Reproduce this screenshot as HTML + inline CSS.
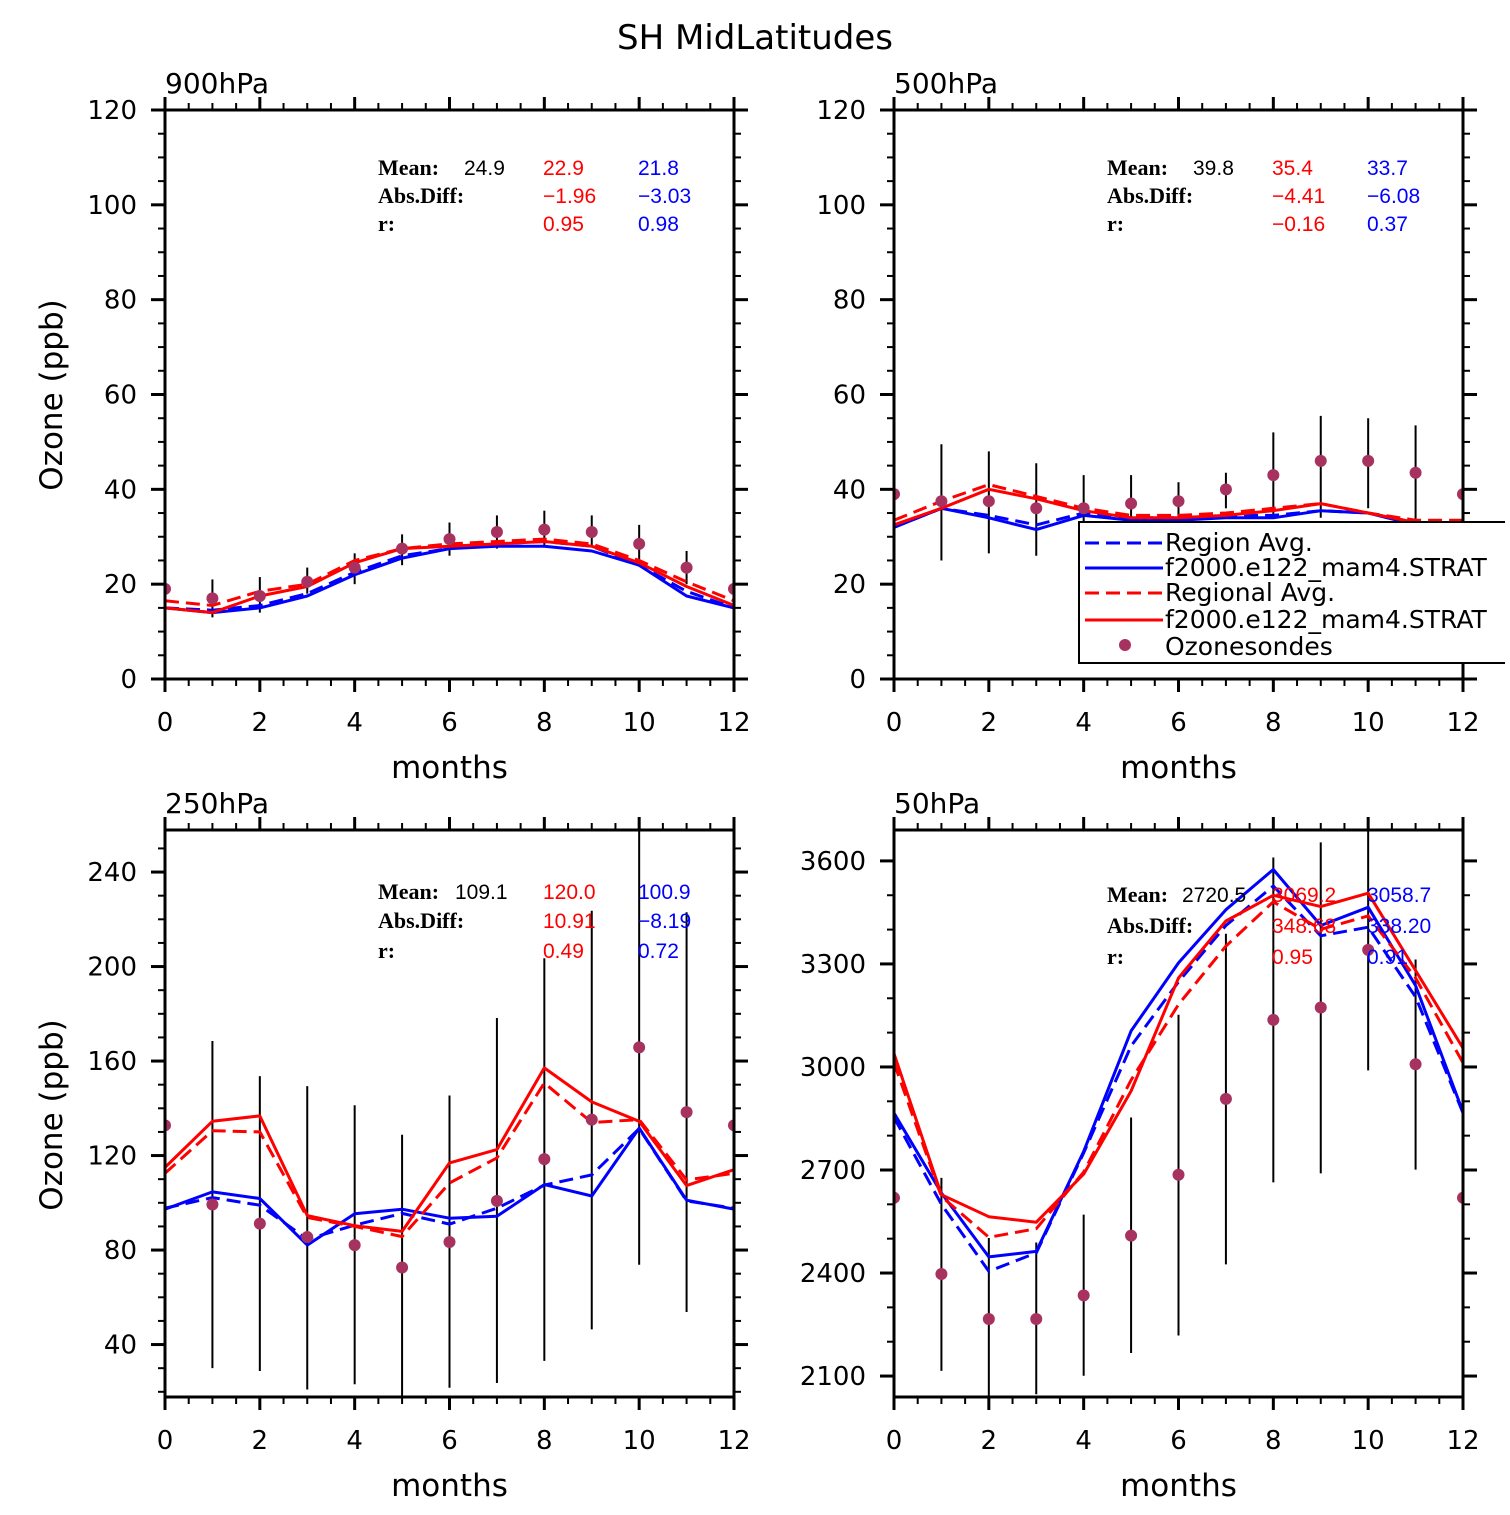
<!DOCTYPE html>
<html><head><meta charset="utf-8"><style>
html,body{margin:0;padding:0;background:#fff;}
svg text{font-family:"DejaVu Sans","Liberation Sans",sans-serif;}
.lbl{font-family:"Liberation Serif","DejaVu Serif",serif !important;font-weight:bold;}
.num{font-family:"Liberation Sans","DejaVu Sans",sans-serif !important;}
</style></head><body>
<svg id="fig" width="1510" height="1510" viewBox="0 0 1510 1510" xmlns="http://www.w3.org/2000/svg">
<rect width="1510" height="1510" fill="#fff"/>
<text x="755" y="49" font-size="34" text-anchor="middle">SH MidLatitudes</text>
</svg>
<script>
// months
const months=[0,1,2,3,4,5,6,7,8,9,10,11,12];
// ---- panel 900hPa ----
const p900Obs=[19,17,17.5,20.5,23.5,27.5,29.5,31,31.5,31,28.5,23.5,19];
const p900ErrLo=[null,13,14,18,20,24,26,27.5,28,28,24.5,20,null];
const p900ErrHi=[null,21,21.5,23.5,26.5,30.5,33,34.5,35.5,34.5,32.5,27,null];
const p900RedDash=[16.5,15.5,18.5,20,25,27.5,28.5,29,29.5,28.5,25,20.5,16.5];
const p900Red=[15,14,17.5,19.5,24.5,27.5,28,28.5,29,28,24.5,19.5,15.5];
const p900BlueDash=[15,14.5,15.5,18,22.5,26,27.5,28.5,29,28,24,18.5,15];
const p900Blue=[15,14,15,17.5,22,25.5,27.5,28,28,27,24,17.5,15];
const p900Ticks=[0,20,40,60,80,100,120];
const p900Stats=["24.9","22.9","21.8","\u22121.96","\u22123.03","0.95","0.98"];
// ---- panel 500hPa ----
const p500Obs=[39,37.5,37.5,36,36,37,37.5,40,43,46,46,43.5,39];
const p500ErrLo=[null,25,26.5,26,27,30,33,36,34,34,36,33,null];
const p500ErrHi=[null,49.5,48,45.5,43,43,41.5,43.5,52,55.5,55,53.5,null];
const p500RedDash=[33.5,37.5,41,38.5,36,34.5,34.5,35,36,37,35,33.5,33.5];
const p500Red=[32.5,36,40,38,35.5,34,34,34.5,35.5,37,35,33,32.5];
const p500BlueDash=[32,36,34.5,32.5,35,34,34,34.5,34.5,35.5,35,33,32];
const p500Blue=[32,36,34,31.5,34.5,33.5,33.5,34,34,35.5,35,32.5,32];
const p500Ticks=[0,20,40,60,80,100,120];
const p500Stats=["39.8","35.4","33.7","\u22124.41","\u22126.08","\u22120.16","0.37"];
// ---- panel 250hPa ----
const p250Obs=[132.8,99.3,91.2,85.5,82.1,72.6,83.4,100.8,118.5,135.2,165.8,138.4,132.8];
const p250ErrLo=[null,30,28.8,21,23.2,15,21.7,23.7,33.1,46.4,73.8,53.8,null];
const p250ErrHi=[null,168.5,153.6,149.4,141.3,128.8,145.4,178.2,203.5,223.6,270,223,null];
const p250RedDash=[112.5,130.5,130,93.8,90,85.7,108.4,119,150.7,134,135.2,109.7,112.5];
const p250Red=[115,134.5,136.8,94.6,90.3,87.9,116.9,122.5,157.1,142.7,134.5,107.3,114];
const p250BlueDash=[97.7,102.2,99,84.6,90.5,95.5,91,97.7,107.5,111.8,131.4,100.8,97.7];
const p250Blue=[97.3,104.6,101.8,82.1,95.4,97.3,93.5,94.3,107.7,102.9,131.6,101.1,97.3];
const p250Ticks=[40,80,120,160,200,240];
const p250Stats=["109.1","120.0","100.9","10.91","\u22128.19","0.49","0.72"];
// ---- panel 50hPa ----
const p50Obs=[2619,2397,2266,2266,2335,2509,2686,2907,3137,3173,3341,3008,2619];
const p50ErrLo=[null,2115,2000,2047,2101,2167,2218,2425,2664,2690,2990,2701,null];
const p50ErrHi=[null,2677,2502,2489,2570,2853,3152,3388,3610,3654,3750,3313,null];
const p50RedDash=[3012,2623,2504,2529,2694,2962,3182,3352,3481,3401,3440,3259,3012];
const p50Red=[3039,2628,2564,2548,2688,2930,3259,3425,3500,3467,3506,3281,3055];
const p50BlueDash=[2853,2600,2405,2459,2750,3061,3248,3412,3527,3382,3407,3204,2866];
const p50Blue=[2866,2633,2447,2463,2754,3105,3303,3458,3575,3412,3465,3237,2869];
const p50Ticks=[2100,2400,2700,3000,3300,3600];
const p50Stats=["2720.5","3069.2","3058.7","348.68","338.20","0.95","0.91"];
const xTicks=[0,2,4,6,8,10,12];

const NS="http://www.w3.org/2000/svg";
const svg=document.getElementById('fig');
function mk(tag,attrs,parent){const e=document.createElementNS(NS,tag);for(const k in attrs)e.setAttribute(k,attrs[k]);(parent||svg).appendChild(e);return e;}

function panel(cfg){
  const g=mk('g',{});
  
  
  const X0=cfg.x0,X1=cfg.x0+569,Y0=cfg.y0,Y1=cfg.y1;
  const sx=v=>X0+(v-0)/12*(X1-X0);
  const sy=v=>Y1-(v-cfg.ymin)/(cfg.ymax-cfg.ymin)*(Y1-Y0);
  const cid='clip-'+cfg.name;
  const cp=mk('clipPath',{id:cid},g);mk('rect',{x:X0,y:Y0,width:X1-X0,height:Y1-Y0},cp);
  const plot=mk('g',{'clip-path':'url(#'+cid+')'},g);
  
  
  months.forEach((m,i)=>{
    if(cfg.lo[i]===null)return;
    const l=mk('line',{x1:sx(m),x2:sx(m),y1:sy(cfg.lo[i]),y2:sy(cfg.hi[i]),stroke:'#000','stroke-width':2},plot);
    
    
  });
  const series=[[cfg.bd,'#0000ff',true,'region-avg-blue'],[cfg.b,'#0000ff',false,'model-blue'],[cfg.rd,'#ff0000',true,'regional-avg-red'],[cfg.r,'#ff0000',false,'model-red']];
  series.forEach(s=>{
    const pts=months.map((m,i)=>sx(m).toFixed(1)+','+sy(s[0][i]).toFixed(1)).join(' ');
    const a={points:pts,fill:'none',stroke:s[1],'stroke-width':3,'stroke-linejoin':'round'};
    if(s[2])a['stroke-dasharray']='14 7';
    const pl=mk('polyline',a,plot);
    
    
  });
  months.forEach((m,i)=>{
    const c=mk('circle',{cx:sx(m),cy:sy(cfg.obs[i]),r:6,fill:'#a8325f'},plot);
    
    
  });
  const fr=mk('rect',{x:X0,y:Y0,width:X1-X0,height:Y1-Y0,fill:'none',stroke:'#000','stroke-width':3},g);
  
  
  for(let k=0;k<=24;k++){
    const v=k/2, major=(k%4===0), L=major?13:7, x=sx(v);
    mk('line',{x1:x,x2:x,y1:Y1,y2:Y1+L,stroke:'#000','stroke-width':major?3:2},g);
    mk('line',{x1:x,x2:x,y1:Y0,y2:Y0-L,stroke:'#000','stroke-width':major?3:2},g);
  }
  xTicks.forEach(v=>{
    const t=mk('text',{x:sx(v),y:Y1+52,'font-size':26,'text-anchor':'middle'},g);t.textContent=v;
    
    
  });
  for(let v=cfg.minorStart;v<=cfg.ymax;v+=cfg.minor){
    if(v<cfg.ymin)continue;
    const major=cfg.ticks.indexOf(Math.round(v*1000)/1000)>=0, L=major?14:7, y=sy(v);
    mk('line',{x1:X0,x2:X0-L,y1:y,y2:y,stroke:'#000','stroke-width':major?3:2},g);
    mk('line',{x1:X1,x2:X1+L,y1:y,y2:y,stroke:'#000','stroke-width':major?3:2},g);
  }
  cfg.ticks.forEach(v=>{
    const t=mk('text',{x:X0-28,y:sy(v)+9,'font-size':26,'text-anchor':'end'},g);t.textContent=v;
    
    
  });
  const lv=mk('text',{x:X0,y:Y0-17,'font-size':28},g);lv.textContent=cfg.label;
  
  
  const xl=mk('text',{x:(X0+X1)/2,y:Y1+99,'font-size':31,'text-anchor':'middle'},g);xl.textContent='months';
  
  
  if(cfg.ylab){
    const yl=mk('text',{x:0,y:0,'font-size':31,'text-anchor':'middle',transform:'translate(62,'+(cfg.ylabY)+') rotate(-90)'},g);
    yl.textContent='Ozone (ppb)';
    
    
  }
  const st=cfg.stats, rows=cfg.rows, xs=cfg.sx;
  const addT=(txt,x,y,col,cls,name)=>{const t=mk('text',{x:x,y:y+7,'font-size':cls==='lbl'?22:21,fill:col},g);t.setAttribute('class',cls);t.textContent=txt;
    
    };
  addT('Mean:',xs[0],rows[0],'#000','lbl','stats-mean-label');
  addT(st[0],xs[1],rows[0],'#000','num','stats-obs-mean');
  addT(st[1],xs[2],rows[0],'#ff0000','num','stats-red-mean');
  addT(st[2],xs[3],rows[0],'#0000ff','num','stats-blue-mean');
  addT('Abs.Diff:',xs[0],rows[1],'#000','lbl','stats-absdiff-label');
  addT(st[3],xs[2],rows[1],'#ff0000','num','stats-red-absdiff');
  addT(st[4],xs[3],rows[1],'#0000ff','num','stats-blue-absdiff');
  addT('r:',xs[0],rows[2],'#000','lbl','stats-r-label');
  addT(st[5],xs[2],rows[2],'#ff0000','num','stats-red-r');
  addT(st[6],xs[3],rows[2],'#0000ff','num','stats-blue-r');
  return g;
}
panel({name:'p900',label:'900hPa',x0:165,y0:110,y1:679,ymin:0,ymax:120,ticks:p900Ticks,minor:5,minorStart:0,
  obs:p900Obs,lo:p900ErrLo,hi:p900ErrHi,rd:p900RedDash,r:p900Red,bd:p900BlueDash,b:p900Blue,stats:p900Stats,
  rows:[168,196,224],sx:[378,464,543,638],ylab:true,ylabY:395});
panel({name:'p500',label:'500hPa',x0:894,y0:110,y1:679,ymin:0,ymax:120,ticks:p500Ticks,minor:5,minorStart:0,
  obs:p500Obs,lo:p500ErrLo,hi:p500ErrHi,rd:p500RedDash,r:p500Red,bd:p500BlueDash,b:p500Blue,stats:p500Stats,
  rows:[168,196,224],sx:[1107,1193,1272,1367],ylab:false});
panel({name:'p250',label:'250hPa',x0:165,y0:830,y1:1397,ymin:17.8,ymax:257.8,ticks:p250Ticks,minor:10,minorStart:20,
  obs:p250Obs,lo:p250ErrLo,hi:p250ErrHi,rd:p250RedDash,r:p250Red,bd:p250BlueDash,b:p250Blue,stats:p250Stats,
  rows:[892,921,951],sx:[378,455,543,638],ylab:true,ylabY:1115});
panel({name:'p50',label:'50hPa',x0:894,y0:830,y1:1397,ymin:2039,ymax:3690,ticks:p50Ticks,minor:100,minorStart:2100,
  obs:p50Obs,lo:p50ErrLo,hi:p50ErrHi,rd:p50RedDash,r:p50Red,bd:p50BlueDash,b:p50Blue,stats:p50Stats,
  rows:[895,926,957],sx:[1107,1182,1272,1367],ylab:false});

// legend
const lcp=mk('clipPath',{id:'clip-legend'});mk('rect',{x:0,y:0,width:1505,height:1510},lcp);
const lg=mk('g',{'clip-path':'url(#clip-legend)'});


mk('rect',{x:1079,y:522,width:440,height:141,fill:'#fff',stroke:'#000','stroke-width':2},lg);
const legItems=[['Region Avg.','#0000ff',true,541],['f2000.e122_mam4.STRAT','#0000ff',false,566],['Regional Avg.','#ff0000',true,591],['f2000.e122_mam4.STRAT','#ff0000',false,618]];
legItems.forEach(it=>{
  const a={x1:1085,x2:1163,y1:it[3]+2,y2:it[3]+2,stroke:it[1],'stroke-width':3};
  if(it[2])a['stroke-dasharray']='14 7';
  mk('line',a,lg);
  const t=mk('text',{x:1165,y:it[3]+10,'font-size':25},lg);t.textContent=it[0];
  
  
});
mk('circle',{cx:1125,cy:645,r:6,fill:'#a8325f'},lg);
const lt=mk('text',{x:1165,y:655,'font-size':25},lg);lt.textContent='Ozonesondes';


</script>
</body></html>
